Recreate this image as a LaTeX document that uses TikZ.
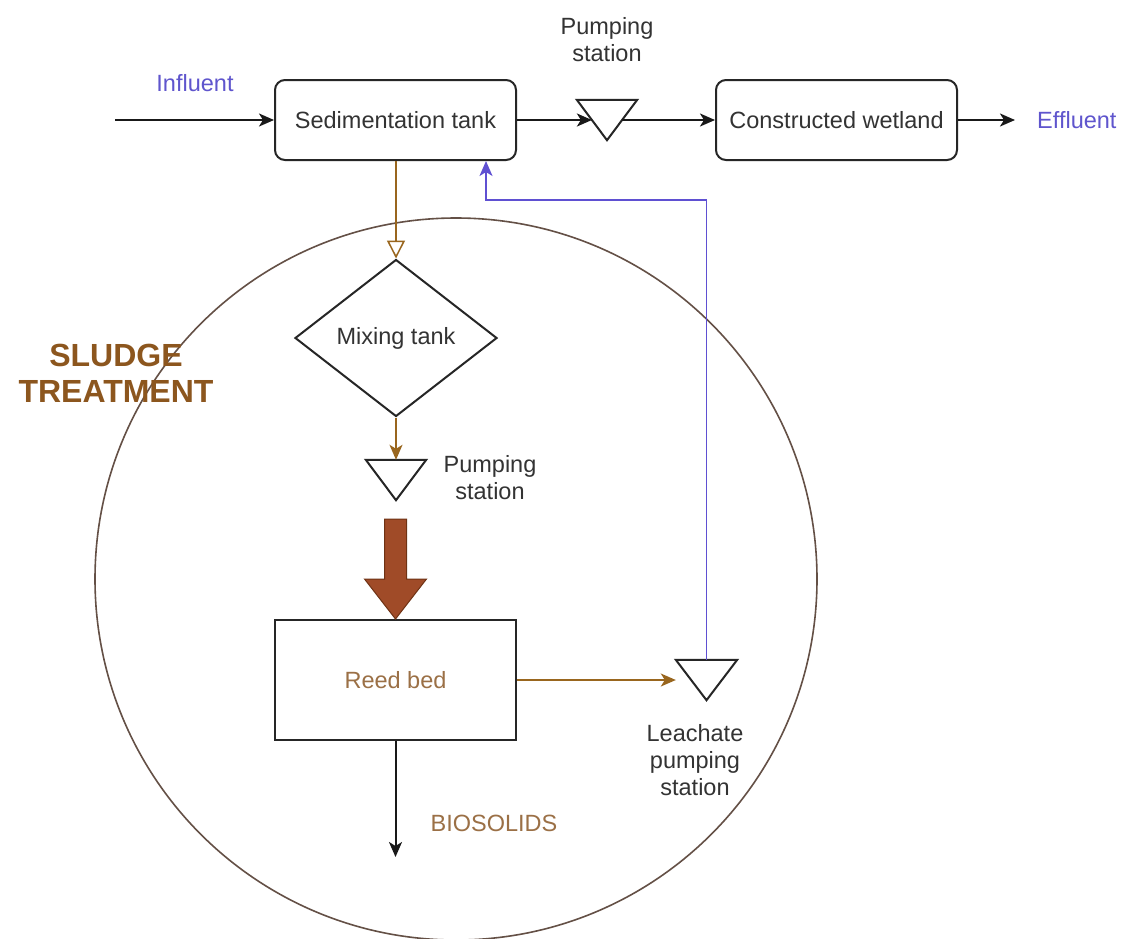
\documentclass[tikz,border=0pt]{standalone}
\usepackage{fontspec}
\setmainfont{Liberation Sans}
\usetikzlibrary{arrows.meta,shapes.geometric,calc}
\definecolor{txt}{RGB}{51,51,51}
\definecolor{bluetxt}{RGB}{95,85,205}
\definecolor{blueline}{RGB}{95,80,210}
\definecolor{brownline}{RGB}{153,102,30}
\definecolor{browntxt}{RGB}{155,112,70}
\definecolor{sludge}{RGB}{140,86,30}
\definecolor{blockfill}{RGB}{160,75,40}
\definecolor{blockdraw}{RGB}{110,50,20}
\definecolor{circ}{RGB}{100,80,70}
\begin{document}
\begin{tikzpicture}[x=1pt,y=-1pt,
  font=\fontsize{23.5}{27}\selectfont,
  lbl/.style={text=txt, align=center, inner sep=0},
  procbox/.style={draw=black!85, line width=2pt, text=txt, minimum width=241pt, minimum height=80pt, inner sep=0},
  pumpbb/.style={inner sep=0, minimum width=60pt, minimum height=40pt},
  tri/.style={draw=black!85, line width=2pt, fill=white, line join=miter},
  flow/.style={line width=2pt, draw=black!90, -{Stealth[length=15pt,width=13pt,inset=4pt]}},
  bflow/.style={line width=1.6pt, draw=brownline, -{Stealth[length=15pt,width=13pt,inset=4pt]}},
  blueflow/.style={line width=1.5pt, draw=blueline, -{Stealth[length=15pt,width=13pt,inset=4pt]}}
]
\useasboundingbox (0,0) rectangle (1126,938);
\fill[white] (0,0) rectangle (1126,938);

% sludge treatment area
\draw[circ, line width=1.6pt] (456,579) circle[radius=361];
\node[font=\bfseries\fontsize{32}{36}\selectfont, text=sludge, align=center, inner sep=0] (st) at (116,373) {SLUDGE\\TREATMENT};

% top row
\node[procbox, rounded corners=10pt] (sed) at (395.5,120) {Sedimentation tank};
\node[procbox, rounded corners=10pt] (cw) at (836.5,120) {Constructed wetland};
\node[lbl, text=bluetxt] (inf) at (195,83) {Influent};
\node[lbl, text=bluetxt, anchor=west] (eff) at (1037,120) {Effluent};
\coordinate (start) at (115,120);
\draw[flow] (start) -- (sed.west);
\draw[flow] (cw.east) -- ($(eff.west)+(-22,0)$);

\node[pumpbb] (p1) at (607,120) {};
\draw[tri] (p1.north west) -- (p1.north east) -- (p1.south) -- cycle;
\node[lbl] (p1lbl) at (607,40) {Pumping\\station};
\draw[flow] (sed.east) -- ($(p1.west)!0.5!(p1.center)$);
\draw[flow] ($(p1.east)!0.5!(p1.center)$) -- (cw.west);

% mixing tank
\node[diamond, aspect=1.3, draw=black!85, line width=2pt, minimum width=202pt, minimum height=157pt, inner sep=0, text=txt] (mix) at (396,338) {Mixing tank};
\draw[line width=1.5pt, brownline, -{Triangle[open,length=18pt,width=18pt]}] (mix.north |- sed.south) -- (mix.north);

% pumping station 2
\node[pumpbb] (p2) at (396,480) {};
\draw[tri] (p2.north west) -- (p2.north east) -- (p2.south) -- cycle;
\node[lbl] (p2lbl) at (490,478) {Pumping\\station};
\draw[bflow] (mix.south) -- (p2.north);

% reed bed
\node[procbox, minimum height=120pt, text=browntxt] (reed) at (395.5,680) {Reed bed};
\draw[fill=blockfill, draw=blockdraw, line width=1pt, line join=miter]
  (reed.north) -- ++(-31,-40) -- ++(20,0) -- ++(0,-60) -- ++(22,0) -- ++(0,60) -- ++(20,0) -- cycle;

% leachate pumping station
\node[pumpbb, minimum width=61pt] (p3) at (706.5,680) {};
\draw[tri] (p3.north west) -- (p3.north east) -- (p3.south) -- cycle;
\node[lbl] (p3lbl) at (695,760) {Leachate\\pumping\\station};
\draw[bflow] (reed.east) -- (p3.west);

% leachate return
\coordinate (bt) at (486,200);
\draw[blueflow] (p3.north) |- (bt) -- (bt |- sed.south);

% biosolids
\coordinate (bioend) at (396,857);
\draw[flow] (reed.south) -- (reed.south |- bioend);
\node[lbl, text=browntxt] (bio) at (494,823) {BIOSOLIDS};
\end{tikzpicture}
\end{document}
